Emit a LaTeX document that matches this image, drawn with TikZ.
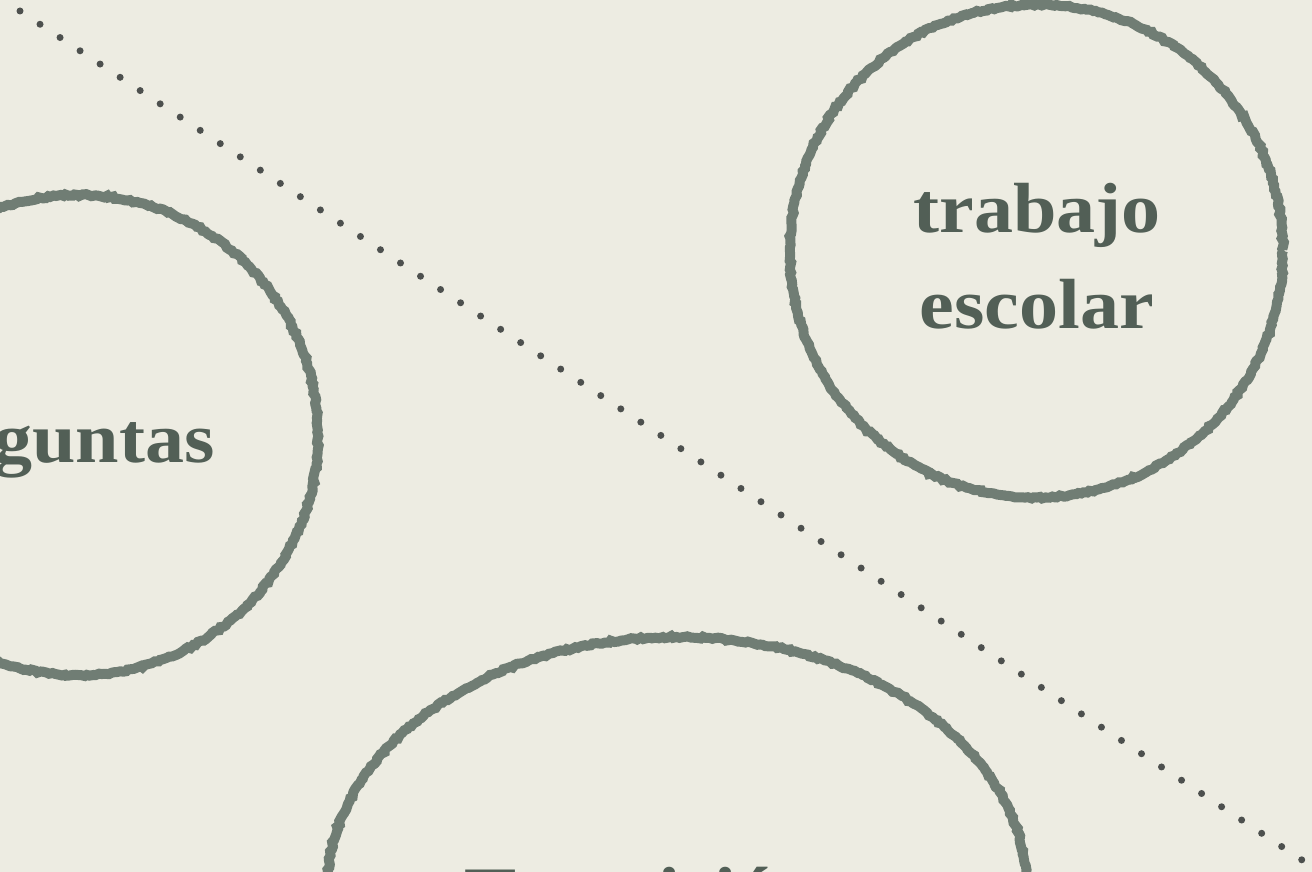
\documentclass[tikz,border=0pt]{standalone}
\usepackage{fontspec}
\setmainfont[FakeStretch=1.1]{Liberation Serif}
\usetikzlibrary{shapes.geometric,decorations.pathmorphing}
\definecolor{paper}{RGB}{237,236,226}
\definecolor{ringc}{RGB}{112,125,116}
\definecolor{inkc}{RGB}{82,95,86}
\definecolor{dotc}{RGB}{77,80,78}
\tikzset{
  ring/.style={draw=ringc, line width=10pt, inner sep=0pt,
    decorate, decoration={random steps, segment length=3pt, amplitude=1.1pt}},
  lbl/.style={text=inkc, inner sep=0pt, font=\fontsize{71}{96}\selectfont\bfseries, align=center},
  dotline/.style={draw=dotc, line width=7pt, line cap=round, dash pattern=on 0pt off 24.02pt}
}
\begin{document}
\begin{tikzpicture}[x=1pt,y=-1pt]
\fill[paper] (0,0) rectangle (1312,872);
\useasboundingbox (0,0) rectangle (1312,872);
% dotted diagonal
\coordinate (d1) at (20,11);
\coordinate (d2) at (1302,860);
\draw[dotline] (d1) -- (d2);
% circles
\node[ring, circle, minimum size=493pt] (c1) at (1036.5,251) {};
\node[ring, circle, minimum size=480pt] (c2) at (78,435) {};
\node[ring, ellipse, minimum width=700pt, minimum height=506pt] (c3) at (677,890) {};
% labels
\node[lbl] (t1) at (1037,256) {trabajo\\escolar};
\node[lbl, anchor=base east] (t2) at (215,462) {Preguntas};
\node[lbl, anchor=base west] (t3) at (464,916.5) {Transición};
\end{tikzpicture}
\end{document}
